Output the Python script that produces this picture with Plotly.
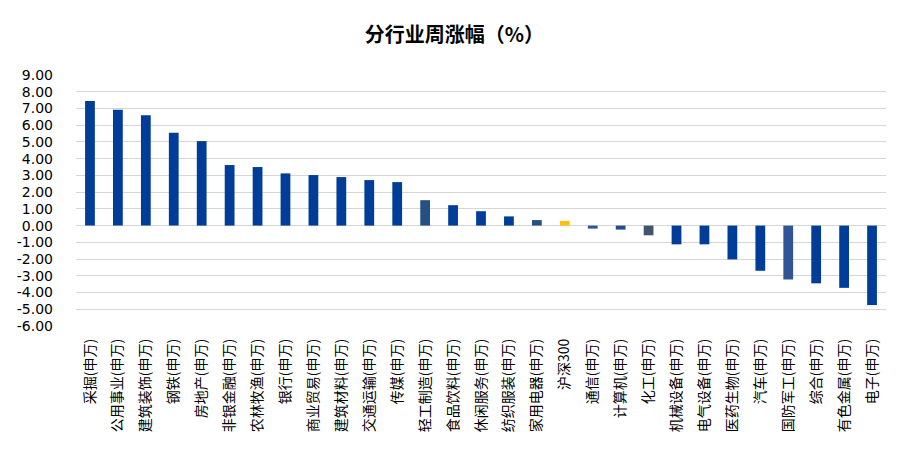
import plotly.graph_objects as go

categories = ["采掘(申万)", "公用事业(申万)", "建筑装饰(申万)", "钢铁(申万)", "房地产(申万)",
              "非银金融(申万)", "农林牧渔(申万)", "银行(申万)", "商业贸易(申万)", "建筑材料(申万)",
              "交通运输(申万)", "传媒(申万)", "轻工制造(申万)", "食品饮料(申万)", "休闲服务(申万)",
              "纺织服装(申万)", "家用电器(申万)", "沪深300", "通信(申万)", "计算机(申万)",
              "化工(申万)", "机械设备(申万)", "电气设备(申万)", "医药生物(申万)", "汽车(申万)",
              "国防军工(申万)", "综合(申万)", "有色金属(申万)", "电子(申万)"]
values = [7.45, 6.92, 6.60, 5.55, 5.05,
          3.62, 3.50, 3.12, 3.02, 2.90,
          2.72, 2.60, 1.52, 1.22, 0.86,
          0.55, 0.33, 0.28, -0.18, -0.24,
          -0.58, -1.12, -1.12, -2.02, -2.70,
          -3.22, -3.45, -3.72, -4.75]
colors = ["#003D99"] * len(categories)
colors[12] = "#264F85"
colors[16] = "#264F85"
colors[17] = "#FFC000"
colors[18] = "#2E5597"
colors[19] = "#264F85"
colors[20] = "#44546A"
colors[25] = "#2F5597"

ytick_vals = list(range(-6, 10))
ytick_text = [f"{v:.2f}" for v in ytick_vals]

fig = go.Figure(go.Bar(x=categories, y=values, marker=dict(color=colors, line=dict(width=0)),
                       width=0.35))
font_family = "Noto Sans CJK SC, Noto Sans, sans-serif"
fig.update_layout(
    width=909, height=462,
    margin=dict(l=76, r=23, t=75, b=136, autoexpand=False),
    paper_bgcolor="white", plot_bgcolor="white",
    title=dict(text="<b>分行业周涨幅（%）</b>", x=0.5, xanchor="center",
               y=1 - 35 / 462, yanchor="middle", yref="container",
               font=dict(size=20, color="#000000", family=font_family)),
    font=dict(family=font_family, color="#000000", size=14),
    showlegend=False,
)
fig.update_yaxes(range=[-6, 9], tickvals=ytick_vals, ticktext=ytick_text, automargin=False,
                 showgrid=True, gridcolor="#D6D6D6", gridwidth=1,
                 zeroline=True, zerolinecolor="#D6D6D6", zerolinewidth=1,
                 tickfont=dict(size=14, family="DejaVu Sans, sans-serif"),
                 ticklabelstandoff=22, showline=False)
fig.update_xaxes(tickangle=-90, tickfont=dict(size=14), showgrid=False, showline=False,
                 automargin=False, ticks="", ticklabelstandoff=9)
fig.write_html("out.html", config={"displayModeBar": False},
               post_script="document.body.style.margin='0';document.body.style.overflow='hidden';")
